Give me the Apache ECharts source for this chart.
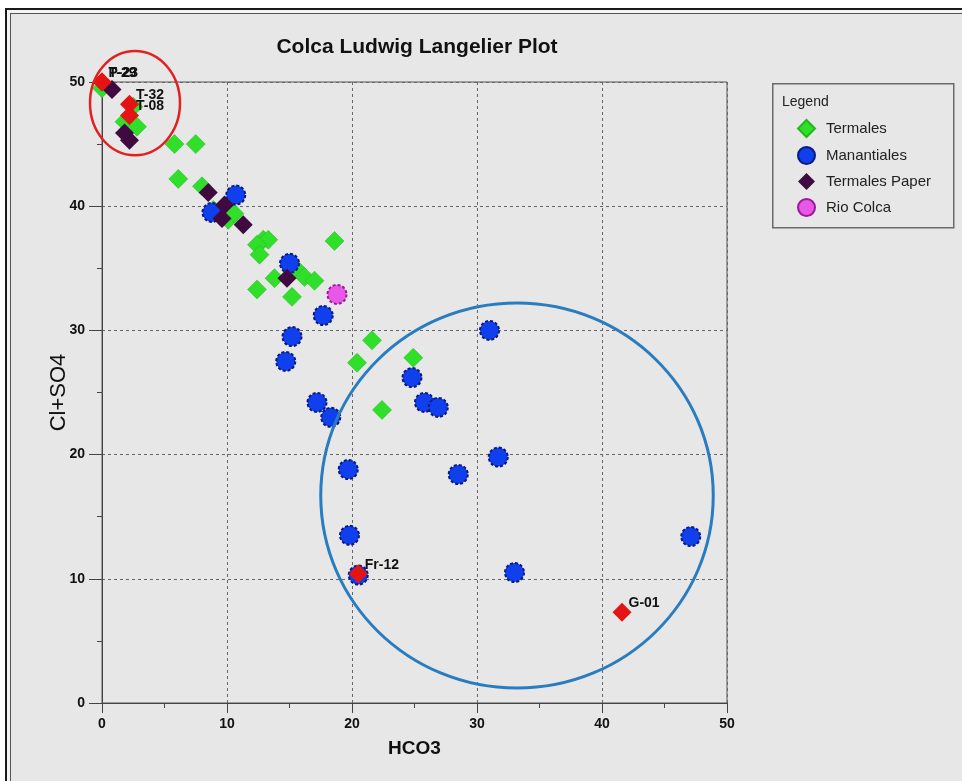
<!DOCTYPE html>
<html>
<head>
<meta charset="utf-8">
<script src="https://cdn.jsdelivr.net/npm/echarts@6/dist/echarts.min.js"></script>
<style>
  html, body { margin: 0; padding: 0; background: #ffffff; overflow: hidden; width: 962px; height: 781px; }
  #frame { position: absolute; left: 5px; top: 8px; width: 1000px; height: 800px;
           border: 2px solid #1a1a1a; background: #f4f4f4; padding: 3px; box-sizing: border-box; }
  #inner { width: 100%; height: 100%; border: 1px solid #555; background: #e7e7e7; box-sizing: border-box; }
  #chart { position: absolute; left: 0; top: 0; width: 962px; height: 781px; }
</style>
</head>
<body>
<div id="frame"><div id="inner"></div></div>
<div id="chart"></div>
<script>
// Samples: [HCO3, Cl+SO4]
const termales = [
  [0, 49.5], [1.8, 46.8], [2.8, 46.4], [2.5, 48.0], [5.8, 45.0], [7.5, 45.0],
  [6.1, 42.2], [8.0, 41.6], [8.9, 39.7], [10.1, 38.9], [10.6, 39.4], [12.9, 37.3],
  [13.3, 37.3], [12.4, 36.9], [12.6, 36.1], [18.6, 37.2], [12.4, 33.3], [13.8, 34.2],
  [15.6, 34.9], [16.2, 34.3], [17.0, 34.0], [15.2, 32.7], [21.6, 29.2], [20.4, 27.4],
  [24.9, 27.8], [22.4, 23.6]
];
const manantiales = [
  [10.7, 40.9], [8.8, 39.5], [15.0, 35.4], [17.7, 31.2], [15.2, 29.5], [14.7, 27.5],
  [17.2, 24.2], [18.3, 23.0], [31.0, 30.0], [24.8, 26.2], [25.8, 24.2], [26.9, 23.8],
  [19.7, 18.8], [28.5, 18.4], [31.7, 19.8], [19.8, 13.5], [33.0, 10.5], [47.1, 13.4],
  [20.5, 10.3]
];
const termalesPaper = [
  [0.8, 49.4], [1.8, 45.9], [2.2, 45.3], [8.5, 41.1], [9.8, 40.1], [9.6, 39.0],
  [11.3, 38.5], [14.8, 34.2]
];
const rioColca = [[18.8, 32.9]];

// Highlighted samples with their names
const labelNames = ['P-23', 'T-29', 'T-32', 'T-08', 'Fr-12', 'G-01'];
const labelX = [0, 0, 2.2, 2.2, 20.5, 41.6];
const labelY = [50, 50, 48.2, 47.3, 10.4, 7.3];

// Grouping ellipses: [centre x, centre y, radius x, radius y] in axis units
const redGroup = [[2.64, 48.3, 3.6, 4.2]];
const blueGroup = [[33.2, 16.7, 15.7, 15.5]];

const xTicks = { min: 0, max: 50, interval: 10 };
const yTicks = { min: 0, max: 50, interval: 10 };

const tickFont = "'Liberation Sans Narrow', 'Liberation Sans', Arial, sans-serif";
const textFont = "'Liberation Sans', Arial, sans-serif";

const chart = echarts.init(document.getElementById('chart'), null, { renderer: 'canvas' });

function ellipseItem(color, width) {
  return function (params, api) {
    const c = api.coord([api.value(0), api.value(1)]);
    const s = api.size([api.value(2), api.value(3)]);
    return {
      type: 'ellipse',
      shape: { cx: c[0], cy: c[1], rx: s[0], ry: s[1] },
      style: { fill: null, stroke: color, lineWidth: width }
    };
  };
}

const labeledData = labelNames.map((n, i) => ({ name: n, value: [labelX[i], labelY[i]] }));

const option = {
  backgroundColor: 'transparent',
  animation: false,
  title: {
    text: 'Colca Ludwig Langelier Plot',
    left: 412, top: 32, textAlign: 'center',
    textStyle: { fontFamily: tickFont, fontWeight: 'bold', fontSize: 21, color: '#111' }
  },
  grid: {
    left: 102, right: 235, top: 82, bottom: 78,
    show: true, borderColor: '#555', borderWidth: 1, backgroundColor: 'transparent'
  },
  xAxis: {
    type: 'value', min: xTicks.min, max: xTicks.max, interval: xTicks.interval,
    name: 'HCO3', nameLocation: 'middle', nameGap: 36, nameMoveOverlap: false,
    nameTextStyle: { fontFamily: tickFont, fontWeight: 'bold', fontSize: 19, color: '#111' },
    axisLine: { show: true, lineStyle: { color: '#444', width: 1 } },
    axisTick: { show: true, length: 10, lineStyle: { color: '#444' } },
    minorTick: { show: true, splitNumber: 2, length: 5, lineStyle: { color: '#444' } },
    axisLabel: { margin: 14, fontFamily: tickFont, fontWeight: 'bold', fontSize: 14, color: '#111' },
    splitLine: { show: true, lineStyle: { color: '#666', type: [3, 3], width: 1 } }
  },
  yAxis: {
    type: 'value', min: yTicks.min, max: yTicks.max, interval: yTicks.interval,
    name: 'Cl+SO4', nameLocation: 'middle', nameGap: 32, nameRotate: 90, nameMoveOverlap: false,
    nameTextStyle: { fontFamily: textFont, fontSize: 22, color: '#111' },
    axisLine: { show: true, lineStyle: { color: '#444', width: 1 } },
    axisTick: { show: true, length: 13, lineStyle: { color: '#444' } },
    minorTick: { show: true, splitNumber: 2, length: 5, lineStyle: { color: '#444' } },
    axisLabel: { margin: 17, fontFamily: tickFont, fontWeight: 'bold', fontSize: 14, color: '#111' },
    splitLine: { show: true, lineStyle: { color: '#666', type: [3, 3], width: 1 } }
  },
  legend: {
    data: [
      { name: 'Termales', icon: 'diamond' },
      { name: 'Manantiales', icon: 'circle' },
      { name: 'Termales Paper', icon: 'diamond' },
      { name: 'Rio Colca', icon: 'circle' }
    ],
    orient: 'vertical', left: 792, top: 114, itemGap: 8,
    itemWidth: 17, itemHeight: 17,
    textStyle: { fontFamily: textFont, fontSize: 15, color: '#222', padding: [0, 0, 0, 6] },
    selectedMode: false
  },
  graphic: [
    { type: 'rect', left: 772, top: 83, shape: { width: 181, height: 144 },
      style: { fill: 'transparent', stroke: '#6a6a6a', lineWidth: 1.5 }, z: 0 },
    { type: 'text', left: 782, top: 95,
      style: { text: 'Legend', font: '14px ' + textFont, fill: '#222' } }
  ],
  series: [
    {
      name: 'Termales', type: 'scatter', data: termales,
      symbol: 'diamond', symbolSize: 19,
      itemStyle: { color: '#2fdf2a', borderColor: '#22b61f', borderWidth: 0.5, opacity: 1 }
    },
    {
      name: 'Manantiales', type: 'scatter', data: manantiales,
      symbol: 'circle', symbolSize: 19,
      itemStyle: { color: '#1040ee', borderColor: '#0a1a80', borderWidth: 2, borderType: [3, 2], opacity: 1 }
    },
    {
      name: 'Termales Paper', type: 'scatter', data: termalesPaper,
      symbol: 'diamond', symbolSize: 19,
      itemStyle: { color: '#3e0a40', opacity: 1 }
    },
    {
      name: 'Rio Colca', type: 'scatter', data: rioColca,
      symbol: 'circle', symbolSize: 19,
      itemStyle: { color: '#e857e8', borderColor: '#9a1a9a', borderWidth: 2, borderType: [3, 2], opacity: 1 }
    },
    {
      name: 'Muestras', type: 'scatter', data: labeledData,
      symbol: 'diamond', symbolSize: 19,
      itemStyle: { color: '#e41414', opacity: 1 },
      label: {
        show: true, position: 'right', offset: [-8, -9],
        formatter: '{b}', opacity: 1,
        fontFamily: textFont, fontWeight: 'bold', fontSize: 14, color: '#111'
      },
      z: 5
    },
    {
      type: 'custom', data: redGroup, clip: false, silent: true, z: 6,
      encode: { x: 0, y: 1 },
      renderItem: ellipseItem('#e32020', 2.5)
    },
    {
      type: 'custom', data: blueGroup, clip: false, silent: true, z: 6,
      encode: { x: 0, y: 1 },
      renderItem: ellipseItem('#2a7cc0', 3)
    }
  ]
};

chart.setOption(option);
</script>
</body>
</html>
